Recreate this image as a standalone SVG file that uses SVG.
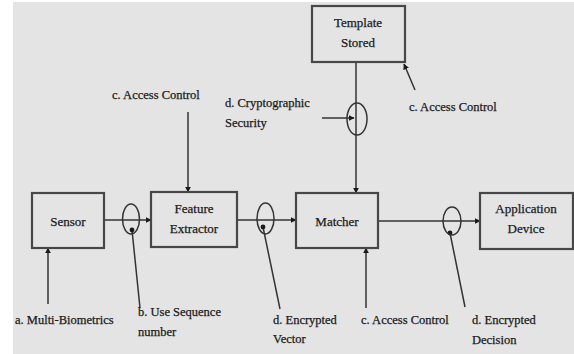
<svg xmlns="http://www.w3.org/2000/svg" width="574" height="354" viewBox="0 0 574 354">
  <defs>
    <style>
      .box { fill: none; stroke: #474747; stroke-width: 2.2; }
      .ln { fill: none; stroke: #333333; stroke-width: 1.5; }
      .ring { fill: none; stroke: #333333; stroke-width: 1.5; }
      .lbl { font-family: "Liberation Serif", "Times New Roman", serif; font-size: 12.5px; fill: #1a1a1a; stroke: #1a1a1a; stroke-width: 0.25; }
      .ttl { font-family: "Liberation Serif", "Times New Roman", serif; font-size: 13px; fill: #1a1a1a; stroke: #1a1a1a; stroke-width: 0.25; text-anchor: middle; }
      .dot { fill: #1a1a1a; }
    </style>
    <marker id="arr" viewBox="0 0 10 10" refX="9" refY="5" markerWidth="6" markerHeight="6" orient="auto" markerUnits="userSpaceOnUse">
      <path d="M0,0 L10,5 L0,10 z" fill="#1a1a1a"/>
    </marker>
  </defs>

  <rect x="0" y="0" width="574" height="354" fill="#ffffff"/>
  <rect x="13" y="2" width="561" height="352" fill="#e4e4e4"/>

  <!-- connectors -->
  <g id="connectors">
    <line class="ln" x1="104" y1="220" x2="151" y2="220" marker-end="url(#arr)"/>
    <line class="ln" x1="237" y1="220" x2="296" y2="220" marker-end="url(#arr)"/>
    <line class="ln" x1="378" y1="221" x2="480" y2="221" marker-end="url(#arr)"/>
    <line class="ln" x1="356" y1="62" x2="356" y2="193" marker-end="url(#arr)"/>
    <line class="ln" x1="188" y1="112" x2="188" y2="192" marker-end="url(#arr)"/>
    <line class="ln" x1="322" y1="118" x2="354" y2="118" marker-end="url(#arr)"/>
    <line class="ln" x1="415" y1="90" x2="404" y2="64" marker-end="url(#arr)"/>
    <line class="ln" x1="48" y1="304" x2="48" y2="248" marker-end="url(#arr)"/>
    <line class="ln" x1="366" y1="308" x2="366" y2="248" marker-end="url(#arr)"/>
    <line class="ln" x1="140" y1="308" x2="132" y2="230"/>
    <line class="ln" x1="280" y1="309" x2="263" y2="227"/>
    <line class="ln" x1="465" y1="307" x2="450" y2="233"/>
    <circle class="dot" cx="132" cy="230" r="2.4"/>
    <circle class="dot" cx="263" cy="227" r="2.4"/>
    <circle class="dot" cx="450" cy="233" r="2.4"/>
    <ellipse class="ring" cx="131" cy="219" rx="8.5" ry="15"/>
    <ellipse class="ring" cx="265.5" cy="218.5" rx="8.5" ry="15.5"/>
    <ellipse class="ring" cx="452" cy="221" rx="9" ry="14"/>
    <ellipse class="ring" cx="357" cy="119" rx="10" ry="16"/>
  </g>

  <g id="sensor">
    <rect class="box" x="32" y="193" width="72" height="55"/>
    <text class="ttl" x="68" y="226">Sensor</text>
  </g>

  <g id="feature-extractor">
    <rect class="box" x="151" y="192" width="86" height="55"/>
    <text class="ttl" x="194" y="213">Feature</text>
    <text class="ttl" x="194" y="233">Extractor</text>
  </g>

  <g id="matcher">
    <rect class="box" x="296" y="193" width="82" height="55"/>
    <text class="ttl" x="337" y="226">Matcher</text>
  </g>

  <g id="application-device">
    <rect class="box" x="480" y="193" width="93" height="56"/>
    <text class="ttl" x="526" y="213">Application</text>
    <text class="ttl" x="526" y="233">Device</text>
  </g>

  <g id="template-stored">
    <rect class="box" x="312" y="6" width="93" height="56"/>
    <text class="ttl" x="358" y="27">Template</text>
    <text class="ttl" x="358" y="47">Stored</text>
  </g>

  <g id="labels">
    <text class="lbl" x="112" y="99">c. Access Control</text>
    <text class="lbl" x="225" y="107">d. Cryptographic</text>
    <text class="lbl" x="225" y="127">Security</text>
    <text class="lbl" x="409" y="111">c. Access Control</text>
    <text class="lbl" x="15" y="324">a. Multi-Biometrics</text>
    <text class="lbl" x="138" y="316">b. Use Sequence</text>
    <text class="lbl" x="138" y="336">number</text>
    <text class="lbl" x="273" y="324">d. Encrypted</text>
    <text class="lbl" x="273" y="343">Vector</text>
    <text class="lbl" x="361" y="324">c. Access Control</text>
    <text class="lbl" x="472" y="324">d. Encrypted</text>
    <text class="lbl" x="472" y="344">Decision</text>
  </g>
</svg>
